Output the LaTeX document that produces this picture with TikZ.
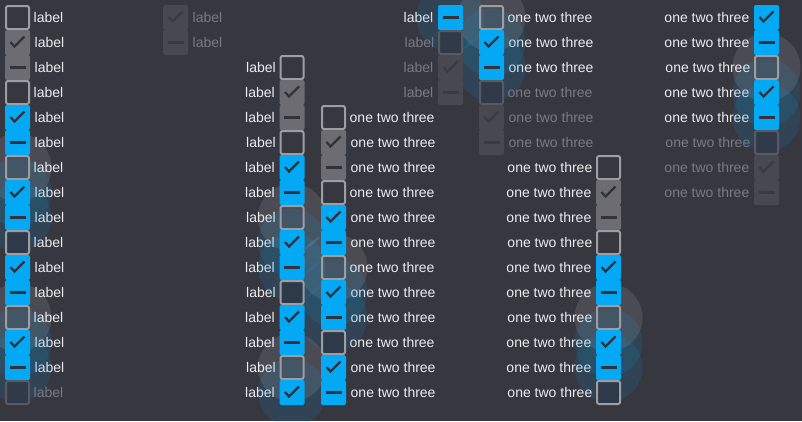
\documentclass[tikz,border=0pt]{standalone}
\usepackage{fontspec}
\setmainfont{Liberation Sans}
\usepackage{tikz}
\usetikzlibrary{positioning}

\definecolor{bg}{RGB}{55,55,64}
\definecolor{cbblue}{RGB}{3,169,244}
\definecolor{cbgray}{RGB}{108,108,114}
\definecolor{cbline}{RGB}{158,158,162}
\definecolor{cbmark}{RGB}{50,50,58}
\definecolor{cbfocus}{RGB}{46,58,74}
\definecolor{offfill}{RGB}{72,72,80}
\definecolor{offmark}{RGB}{58,58,66}
\definecolor{offline}{RGB}{88,90,98}
\definecolor{offbox}{RGB}{48,58,72}
\definecolor{txt}{RGB}{236,236,238}
\definecolor{offtxt}{RGB}{122,122,130}

\pgfdeclarelayer{lbls}
\pgfdeclarelayer{halos}
\pgfsetlayers{lbls,halos,main}

\tikzset{
	cbox/.style={rectangle, minimum size=25pt, inner sep=0pt, outer sep=0pt, rounded corners=2pt},
	cline/.style={draw, line width=2pt, minimum size=23pt},
	tickline/.style={line width=2.2pt},
	lbl/.style={inner sep=0pt, text height=10pt, text depth=0pt, font=\fontsize{14}{16}\selectfont},
	hlite/.style={white, opacity=0.1},
	hblue/.style={cbblue, opacity=0.12}
}

% check mark and dash inside a box
\newcommand{\tk}[2]{\draw[tickline, draw=#2] ([shift={(-7,-0.5)}]#1.center) -- ([shift={(-3,4)}]#1.center) -- ([shift={(7,-6)}]#1.center);}
\newcommand{\ds}[2]{\draw[tickline, draw=#2] ([shift={(-8,0)}]#1.center) -- ([shift={(8,0)}]#1.center);}

% name, x, row, state, side of label, label
\newcommand{\chk}[6]{%
	\ifnum#4<6 \def\lc{txt}\else\def\lc{offtxt}\fi
	\ifcase#4\relax
		\node[cbox, cline, draw=cbline] (#1) at (#2,{17.5+25*#3}) {};
	\or
		\node[cbox, fill=cbgray] (#1) at (#2,{17.5+25*#3}) {}; \tk{#1}{cbmark}
	\or
		\node[cbox, fill=cbgray] (#1) at (#2,{17.5+25*#3}) {}; \ds{#1}{cbmark}
	\or
		\node[cbox, fill=cbblue] (#1) at (#2,{17.5+25*#3}) {}; \tk{#1}{cbmark}
	\or
		\node[cbox, fill=cbblue] (#1) at (#2,{17.5+25*#3}) {}; \ds{#1}{cbmark}
	\or
		\node[cbox, cline, draw=cbline, fill=cbfocus] (#1) at (#2,{17.5+25*#3}) {};
	\or
		\node[cbox, cline, draw=offline, fill=offbox] (#1) at (#2,{17.5+25*#3}) {};
	\or
		\node[cbox, fill=offfill] (#1) at (#2,{17.5+25*#3}) {}; \tk{#1}{offmark}
	\or
		\node[cbox, fill=offfill] (#1) at (#2,{17.5+25*#3}) {}; \ds{#1}{offmark}
	\fi
	\begin{pgfonlayer}{lbls}
		\node[lbl, text=\lc, #5=4.5pt of #1] (#1t) {#6};
	\end{pgfonlayer}
}

\def\states{{0,1,2,0,3,4,0,3,4,5,3,4,0,3,4,6,7,8}}

\begin{document}
\begin{tikzpicture}[x=1pt, y=-1pt]
	
	\useasboundingbox (0,0) rectangle (802,421);
	\begin{pgfonlayer}{lbls}
		\fill[bg] (0,0) rectangle (802,421);
	\end{pgfonlayer}
	
	% columns: name/x/first row/last row/state offset/label side/label
	\foreach \c/\x/\ra/\rb/\kk/\side/\txt in {
		A/17.5/0/15/0/right/label, B/175.5/0/1/16/right/label,
		C/292/2/15/-2/left/label, E/450.5/0/3/14/left/label,
		D/333.5/4/15/-4/right/one two three, F/491.5/0/5/12/right/one two three,
		G/608.5/6/15/-6/left/one two three, H/766.5/0/7/10/left/one two three}
	\foreach \r in {\ra,...,\rb} {
		\pgfmathtruncatemacro\k{\r+(\kk)}
		\pgfmathtruncatemacro\s{\states[\k]}
		\chk{b\c\r}{\x}{\r}{\s}{\side}{\txt}
	}
	
	% hover halos, over the labels and under the boxes
	\begin{pgfonlayer}{halos}
		\foreach \n/\h in {bA6/hlite, bA7/hblue, bA8/hblue, bA12/hlite, bA13/hblue, bA14/hblue,
			bC8/hlite, bC9/hblue, bC10/hblue, bC14/hlite, bC15/hblue, bE0/hblue,
			bD10/hlite, bD11/hblue, bD12/hblue, bF0/hlite, bF1/hblue, bF2/hblue,
			bG12/hlite, bG13/hblue, bG14/hblue, bH2/hlite, bH3/hblue, bH4/hblue}
			\fill[\h] (\n) circle (34);
	\end{pgfonlayer}
	
\end{tikzpicture}
\end{document}
